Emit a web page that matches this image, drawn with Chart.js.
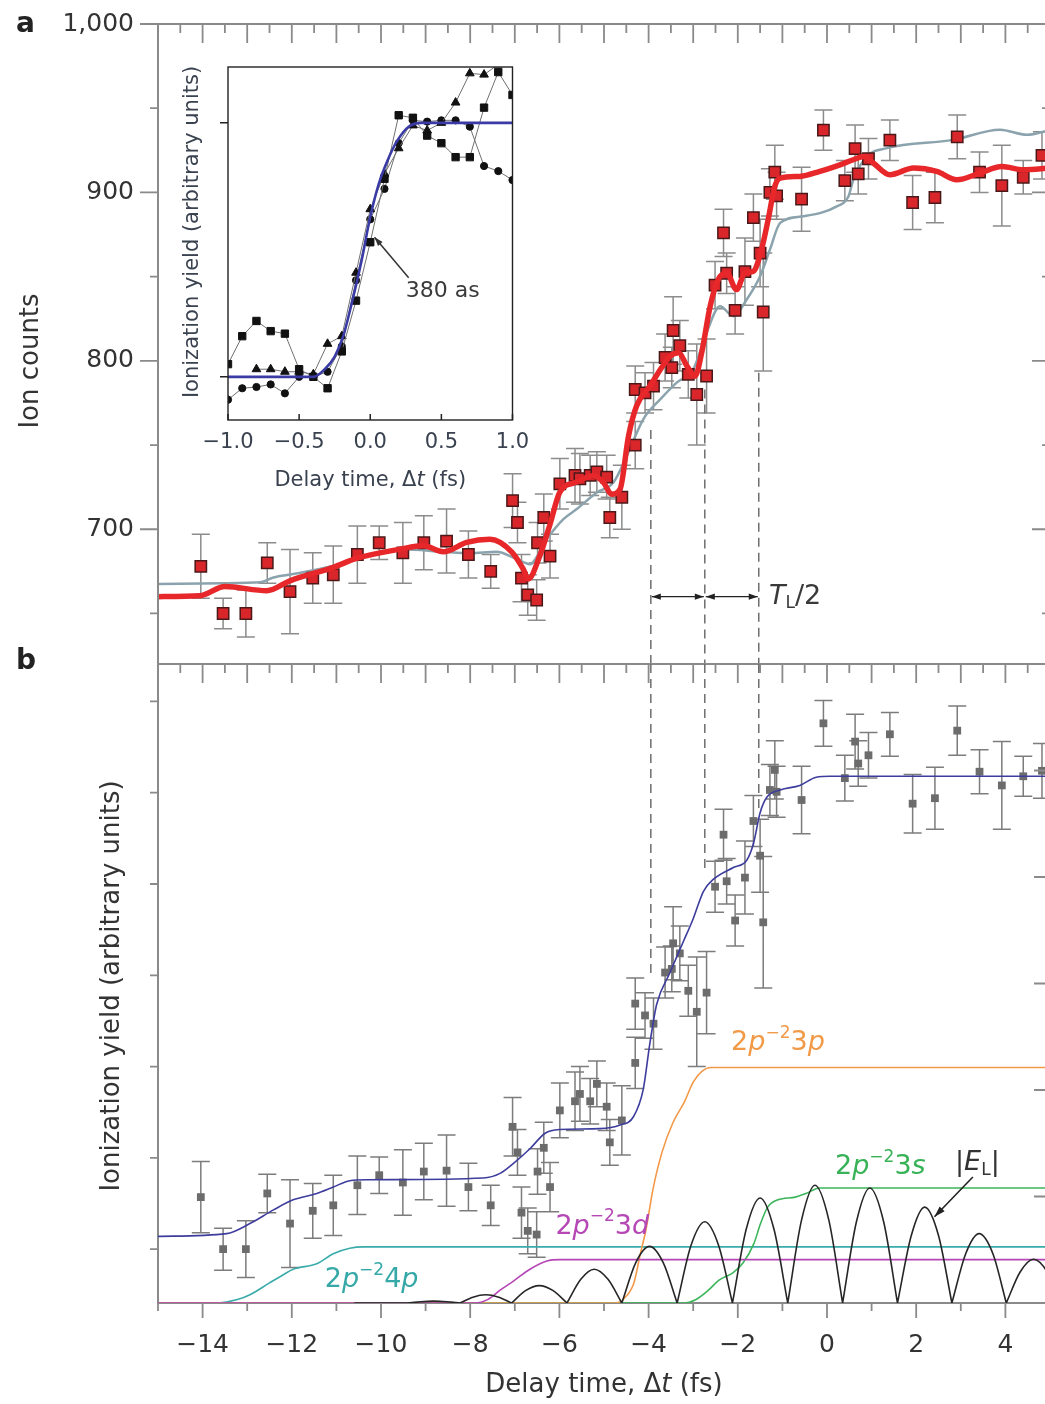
<!DOCTYPE html>
<html>
<head>
<meta charset="utf-8">
<script src="https://cdn.jsdelivr.net/npm/chart.js@4.4.0/dist/chart.umd.min.js"></script>
<style>
  html, body { margin: 0; padding: 0; background: #fff; }
  #fig { position: relative; width: 1045px; height: 1404px; overflow: hidden; background: #fff; }
  #fig canvas { position: absolute; }
</style>
</head>
<body>
<div id="fig">
  <canvas id="panelA" width="1080" height="680" style="left:0;top:0"></canvas>
  <canvas id="panelB" width="1080" height="764" style="left:0;top:640px"></canvas>
  <canvas id="inset" width="380" height="450" style="left:170px;top:50px"></canvas>
</div>
<script>
// ---------- measured scan (shared delays for both panels) ----------
const scanDelay = [
  -14.04, -13.54, -13.03, -12.55, -12.04, -11.53, -11.07, -10.53, -10.04, -9.51,
  -9.04, -8.53, -8.04, -7.54, -7.05, -6.94, -6.85, -6.71, -6.51, -6.49,
  -6.35, -6.21, -5.99, -5.65, -5.54, -5.31, -5.16, -4.94, -4.87, -4.60,
  -4.30, -4.30, -4.08, -3.89, -3.63, -3.48, -3.45, -3.30, -3.11, -2.92,
  -2.70, -2.51, -2.32, -2.25, -2.06, -1.84, -1.65, -1.50, -1.43, -1.28,
  -1.17, -1.13, -0.57, -0.08, 0.40, 0.63, 0.70, 0.93, 1.41, 1.92,
  2.42, 2.92, 3.42, 3.92, 4.40, 4.82
];
const ionCounts = [
  678, 650, 650, 680, 663, 671, 673, 685, 692, 686,
  692, 693, 685, 675, 717, 704, 671, 661, 658, 692,
  707, 684, 727, 732, 730, 732, 734, 731, 707, 719,
  750, 783, 781, 785, 802, 796, 818, 809, 792, 780,
  791, 845, 876, 852, 830, 853, 885, 864, 829, 900,
  912, 898, 896, 937, 907, 926, 911, 920, 931, 894,
  897, 933, 912, 904, 909, 922
];
const ionErr = [
  19, 9, 14, 12, 25, 15, 17, 17, 10, 18,
  16, 19, 14, 10, 16, 12, 14, 12, 12, 12,
  14, 13, 15, 16, 15, 12, 12, 13, 12, 19,
  14, 14, 12, 14, 14, 12, 20, 15, 14, 30,
  22, 14, 14, 12, 14, 20, 14, 20, 35, 14,
  16, 14, 19, 12, 12, 14, 12, 12, 12, 16,
  15, 13, 12, 24, 10, 14
];
const yieldValue = [
  1.16, 0.59, 0.59, 1.20, 0.87, 1.01, 1.07, 1.29, 1.40, 1.32,
  1.44, 1.45, 1.27, 1.07, 1.93, 1.65, 0.99, 0.79, 0.75, 1.44,
  1.70, 1.27, 2.11, 2.21, 2.29, 2.21, 2.40, 2.15, 1.76, 2.00,
  2.63, 3.28, 3.15, 3.06, 3.62, 3.66, 3.94, 3.83, 3.42, 3.19,
  3.40, 4.56, 5.13, 4.62, 4.19, 4.66, 5.28, 4.90, 4.17, 5.62,
  5.84, 5.60, 5.51, 6.35, 5.75, 6.15, 5.91, 6.00, 6.23, 5.47,
  5.53, 6.27, 5.82, 5.67, 5.77, 5.83
];
const yieldErr = [
  0.39, 0.23, 0.31, 0.21, 0.48, 0.30, 0.33, 0.32, 0.20, 0.36,
  0.31, 0.39, 0.26, 0.22, 0.32, 0.25, 0.28, 0.25, 0.25, 0.25,
  0.28, 0.27, 0.30, 0.32, 0.30, 0.25, 0.25, 0.26, 0.25, 0.38,
  0.28, 0.28, 0.25, 0.28, 0.28, 0.25, 0.40, 0.30, 0.28, 0.60,
  0.45, 0.28, 0.28, 0.25, 0.28, 0.40, 0.28, 0.40, 0.72, 0.28,
  0.32, 0.28, 0.37, 0.25, 0.25, 0.30, 0.25, 0.25, 0.24, 0.32,
  0.34, 0.27, 0.24, 0.48, 0.22, 0.30
];

// ---------- panel a curves ----------
const fitDelay = [
  -15, -14.06, -13.5, -12.56, -12.04, -11.07, -10.55, -9.57, -9.05, -8.6,
  -8.08, -7.56, -7.07, -6.81, -6.70, -6.44, -6.21, -5.99, -5.61, -5.24,
  -5.01, -4.83, -4.64, -4.45, -4.27, -3.97, -3.71, -3.52, -3.33, -3.14,
  -2.96, -2.81, -2.62, -2.44, -2.25, -2.03, -1.84, -1.65, -1.47, -1.32,
  -1.17, -1.05, -0.61, -0.16, 0.29, 0.59, 0.82, 1.04, 1.41, 1.94,
  2.46, 2.91, 3.43, 3.92, 4.40, 5.0
];
const fitCounts = [
  660, 660.5, 666, 663.5, 669.4, 677.4, 682.7, 688.2, 690.2, 686.6,
  692.2, 694.1, 686.6, 676.3, 670.4, 684.2, 703, 722, 728, 731.7,
  727.7, 720.8, 723.8, 755.4, 773.2, 785, 795.9, 802.8, 804.8, 796.9,
  790.9, 804.8, 832.4, 848.3, 852.2, 842.3, 852.2, 853.2, 866, 883.8,
  903.6, 908.5, 909.5, 912.5, 916.4, 919.4, 921.3, 917.4, 910.5, 914.5,
  912.5, 907.5, 911.5, 915.4, 913.5, 914.5
];
const altDelay = [
  -15, -13.54, -12.7, -12.41, -11.97, -11.07, -10.32, -9.50, -8.60, -8.0,
  -7.41, -6.96, -6.66, -6.29, -5.91, -5.61, -5.16, -4.79, -4.49, -4.12,
  -3.74, -3.37, -3.0, -2.70, -2.40, -2.10, -1.80, -1.50, -1.28, -1.05,
  -0.53, 0.22, 0.48, 0.59, 0.89, 1.34, 2.83, 3.88, 4.48, 5.0
];
const altCounts = [
  667.5, 668, 668.5, 671.4, 673.4, 678.3, 684.6, 688.2, 686.6, 685.8,
  686.6, 682.3, 679.3, 694, 706, 712, 721.8, 727.7, 743.5, 765.3,
  777.1, 787.1, 794.9, 816.7, 832.4, 826.5, 836.4, 850.2, 866, 881.9,
  885.8, 891.7, 897.6, 907.5, 921.3, 926.3, 931.2, 937.2, 934.2, 937
];

// ---------- panel b model and channels ----------
const modelDelay = [
  -15, -13.46, -12.94, -12.41, -11.97, -11.44, -11.07, -10.70, -10.3, -7.71,
  -7.33, -7.03, -6.66, -6.32, -6.0, -5.1, -4.64, -4.34, -4.12, -3.97,
  -3.82, -3.52, -3.22, -3.0, -2.77, -2.55, -2.10, -1.80, -1.65, -1.50,
  -1.35, -1.05, -0.61, -0.24, 0.07, 5.0
];
const modelYield = [
  0.73, 0.76, 0.87, 1.02, 1.13, 1.20, 1.27, 1.34, 1.35, 1.37,
  1.42, 1.53, 1.69, 1.86, 1.90, 1.91, 1.95, 2.04, 2.34, 2.85,
  3.27, 3.62, 3.96, 4.21, 4.51, 4.64, 4.77, 4.85, 5.03, 5.37,
  5.54, 5.62, 5.67, 5.76, 5.77, 5.77
];
const ch4pDelay = [-15, -13.7, -13.2, -12.94, -12.5, -12.19, -11.97, -11.44, -11.07, -10.7, -10.4, 5];
const ch4pYield = [0, 0, 0.04, 0.09, 0.22, 0.31, 0.37, 0.43, 0.54, 0.60, 0.615, 0.615];
const ch3dDelay = [-15, -7.9, -7.6, -7.33, -7.03, -6.66, -6.28, -6.0, 5];
const ch3dYield = [0, 0, 0.04, 0.14, 0.24, 0.37, 0.46, 0.475, 0.475];
const ch3pDelay = [-15, -4.75, -4.55, -4.33, -4.18, -4.06, -3.9, -3.7, -3.45, -3.2, -3.0, -2.8, -2.6, 5];
const ch3pYield = [0, 0, 0.05, 0.22, 0.55, 0.8, 1.25, 1.65, 1.98, 2.2, 2.42, 2.54, 2.58, 2.58];
const ch3sDelay = [-15, -3.2, -2.97, -2.66, -2.42, -2.11, -1.88, -1.64, -1.49, -1.33, -1.10, -0.71, -0.47, -0.16, 0.2, 5];
const ch3sYield = [0, 0, 0.03, 0.14, 0.25, 0.33, 0.44, 0.65, 0.87, 1.05, 1.13, 1.16, 1.20, 1.26, 1.26, 1.26];

// |E_L|: one arch per half cycle, null breaks the line at each node
const fieldDelay = [
  -10.6, -9.40, -9.40,
  -9.40, -9.11, -8.82, -8.52, -8.23, -8.23,
  -8.23, -7.94, -7.65, -7.36, -7.07, -7.07,
  -7.07, -6.76, -6.45, -6.14, -5.83, -5.83,
  -5.83, -5.52, -5.22, -4.91, -4.60, -4.60,
  -4.60, -4.29, -3.98, -3.67, -3.36, -3.36,
  -3.36, -3.05, -2.74, -2.43, -2.12, -2.12,
  -2.12, -1.81, -1.50, -1.19, -0.88, -0.88,
  -0.88, -0.57, -0.27, 0.04, 0.35, 0.35,
  0.35, 0.66, 0.96, 1.27, 1.58, 1.58,
  1.58, 1.89, 2.19, 2.50, 2.80, 2.80,
  2.80, 3.11, 3.41, 3.72, 4.02, 4.02,
  4.02, 4.33, 4.63, 4.94, 5.24
];
const fieldAmp = [
  0, 0, null,
  0, 0.014, 0.02, 0.014, 0, null,
  0, 0.064, 0.09, 0.064, 0, null,
  0, 0.135, 0.19, 0.135, 0, null,
  0, 0.26, 0.37, 0.26, 0, null,
  0, 0.44, 0.62, 0.44, 0, null,
  0, 0.63, 0.89, 0.63, 0, null,
  0, 0.81, 1.15, 0.81, 0, null,
  0, 0.91, 1.29, 0.91, 0, null,
  0, 0.89, 1.26, 0.89, 0, null,
  0, 0.74, 1.05, 0.74, 0, null,
  0, 0.54, 0.76, 0.54, 0, null,
  0, 0.34, 0.48, 0.34, 0
];

// field half-period markers
const markDelay = [-3.95, -2.74, -1.53];
const markTopCounts = [759, 783, 793];
const markBottomYield = [3.6, 4.7, 5.4];

// ---------- inset ----------
const insetDelay = [-1.0, -0.9, -0.8, -0.7, -0.6, -0.5, -0.4, -0.3, -0.2, -0.1, 0.0, 0.1, 0.2, 0.3, 0.4, 0.5, 0.6, 0.7, 0.8, 0.9, 1.0];
const insetSquares = [0.05, 0.16, 0.22, 0.18, 0.17, 0.03, 0.0, -0.045, 0.10, 0.30, 0.53, 0.78, 1.03, 1.02, 0.95, 0.92, 0.865, 0.865, 1.06, 1.20, 1.11];
const insetTriangles = [null, null, 0.03, 0.03, 0.02, 0.02, 0.01, 0.13, 0.16, 0.41, 0.66, 0.80, 0.90, 0.99, 0.97, 1.0, 1.08, 1.195, 1.19, 1.23, null];
const insetCircles = [-0.09, -0.045, -0.04, -0.03, -0.065, 0.0, 0.0, 0.02, 0.12, 0.38, 0.62, 0.74, 0.92, 1.01, 1.005, 1.01, 1.01, 0.985, 0.83, 0.81, 0.775];
const stepDelay = [-1, -0.4, -0.32, -0.25, -0.19, -0.13, -0.06, 0.0, 0.06, 0.12, 0.19, 0.27, 0.36, 1.0];
const stepYield = [0, 0, 0.03, 0.08, 0.16, 0.29, 0.46, 0.63, 0.76, 0.85, 0.93, 0.985, 1.0, 1.0];

// ---------- tick labels ----------
const countTicks = [700, 800, 900, 1000];
const delayTicks = [-14, -12, -10, -8, -6, -4, -2, 0, 2, 4];
const insetTicks = [-1, -0.5, 0, 0.5, 1];
const yieldTicks = [0.59, 1.59, 2.59, 3.59, 4.59, 5.59, 6.59];
const fieldTicks = [1, 2, 3, 4, 5];

// ---------- drawing helpers ----------
const FONT = "'DejaVu Sans', sans-serif";
const AXIS = '#8a8a8a';
const INK = '#333333';
Chart.defaults.font.family = FONT;

const pairs = (xs, ys) => xs.map((x, i) => ({ x, y: ys[i] }));
const minus = v => (v < 0 ? '\u2212' : '') + Math.abs(v);
const halfSteps = Array.from({ length: 41 }, (_, i) => -15 + i * 0.5);
const unitSteps = Array.from({ length: 21 }, (_, i) => -15 + i);
const countSteps = Array.from({ length: 8 }, (_, i) => 650 + i * 50);

function drawTicks(ctx, scale, values, edge, lengthFor, dir) {
  ctx.beginPath();
  values.forEach(v => {
    const p = scale.getPixelForValue(v);
    const len = lengthFor(v);
    if (scale.isHorizontal()) { ctx.moveTo(p, edge); ctx.lineTo(p, edge + dir * len); }
    else { ctx.moveTo(edge, p); ctx.lineTo(edge + dir * len, p); }
  });
  ctx.stroke();
}

// text made of runs: i = italic, s = 'sup' | 'sub', b = bold
function richText(ctx, parts, x, y, size, color, align) {
  const fontFor = p => `${p.b ? 'bold ' : ''}${p.i ? 'italic ' : ''}${p.s ? Math.round(size * 0.62) : size}px ${FONT}`;
  const widths = parts.map(p => { ctx.font = fontFor(p); return ctx.measureText(p.t).width; });
  const total = widths.reduce((a, b) => a + b, 0);
  let cx = align === 'center' ? x - total / 2 : x;
  ctx.fillStyle = color;
  ctx.textAlign = 'left';
  ctx.textBaseline = 'middle';
  parts.forEach((p, i) => {
    ctx.font = fontFor(p);
    const dy = p.s === 'sup' ? -0.36 * size : p.s === 'sub' ? 0.26 * size : 0;
    ctx.fillText(p.t, cx, y + dy);
    cx += widths[i];
  });
}

function verticalText(ctx, parts, x, y, size, color) {
  ctx.save();
  ctx.translate(x, y);
  ctx.rotate(-Math.PI / 2);
  richText(ctx, parts, 0, 0, size, color, 'center');
  ctx.restore();
}

function arrowHead(ctx, x1, y1, x2, y2, len, half) {
  const a = Math.atan2(y2 - y1, x2 - x1);
  const bx = x2 - len * Math.cos(a), by = y2 - len * Math.sin(a);
  ctx.beginPath();
  ctx.moveTo(x2, y2);
  ctx.lineTo(bx + half * Math.sin(a), by - half * Math.cos(a));
  ctx.lineTo(bx - half * Math.sin(a), by + half * Math.cos(a));
  ctx.closePath();
  ctx.fill();
}

function arrow(ctx, x1, y1, x2, y2, len, half) {
  ctx.beginPath();
  ctx.moveTo(x1, y1);
  ctx.lineTo(x2, y2);
  ctx.stroke();
  arrowHead(ctx, x1, y1, x2, y2, len, half);
}

const delayTitle = [{ t: 'Delay time, \u0394' }, { t: 't', i: 1 }, { t: ' (fs)' }];

// vertical error bars with caps, drawn under the markers
const errorBars = {
  id: 'errorBars',
  beforeDatasetsDraw(chart) {
    const { ctx, chartArea: a, scales: { x, y } } = chart;
    ctx.save();
    ctx.beginPath();
    ctx.rect(a.left, a.top, a.right - a.left, a.bottom - a.top);
    ctx.clip();
    chart.data.datasets.forEach(ds => {
      if (!ds.errors) return;
      ctx.strokeStyle = ds.errorColor;
      ctx.lineWidth = 1.5;
      ctx.beginPath();
      ds.data.forEach((pt, i) => {
        const px = x.getPixelForValue(pt.x);
        const top = y.getPixelForValue(pt.y + ds.errors[i]);
        const bot = y.getPixelForValue(pt.y - ds.errors[i]);
        const cap = 9;
        ctx.moveTo(px, top); ctx.lineTo(px, bot);
        ctx.moveTo(px - cap, top); ctx.lineTo(px + cap, top);
        ctx.moveTo(px - cap, bot); ctx.lineTo(px + cap, bot);
      });
      ctx.stroke();
    });
    ctx.restore();
  }
};

// ---------- panel a ----------
const panelAFrame = {
  id: 'panelAFrame',
  afterDraw(chart) {
    const { ctx, chartArea: a, scales: { x, y } } = chart;
    ctx.save();
    ctx.strokeStyle = AXIS;
    ctx.lineWidth = 2;
    ctx.beginPath();
    ctx.moveTo(a.left, a.bottom); ctx.lineTo(a.left, a.top);
    ctx.lineTo(a.right, a.top); ctx.lineTo(a.right, a.bottom);
    ctx.stroke();
    ctx.lineWidth = 1.8;
    drawTicks(ctx, y, countSteps, a.left, v => (v % 100 === 0 ? 18 : 8), -1);
    drawTicks(ctx, y, countSteps, a.right, v => (v % 100 === 0 ? 18 : 8), -1);
    drawTicks(ctx, x, halfSteps, a.top, v => (Number.isInteger(v) ? 19 : 9), 1);

    // dashed markers, continued in panel b
    ctx.strokeStyle = '#6e6e6e';
    ctx.lineWidth = 1.5;
    ctx.setLineDash([9, 6]);
    markDelay.forEach((d, i) => {
      const px = x.getPixelForValue(d);
      ctx.beginPath();
      ctx.moveTo(px, y.getPixelForValue(markTopCounts[i]));
      ctx.lineTo(px, a.bottom);
      ctx.stroke();
    });
    ctx.setLineDash([]);

    // half-period arrows
    const ay = y.getPixelForValue(660);
    ctx.strokeStyle = '#222';
    ctx.fillStyle = '#222';
    ctx.lineWidth = 1.4;
    for (let i = 0; i < markDelay.length - 1; i++) {
      const x1 = x.getPixelForValue(markDelay[i]) + 1;
      const x2 = x.getPixelForValue(markDelay[i + 1]) - 1;
      ctx.beginPath(); ctx.moveTo(x1, ay); ctx.lineTo(x2, ay); ctx.stroke();
      arrowHead(ctx, x2, ay, x1, ay, 9, 3.2);
      arrowHead(ctx, x1, ay, x2, ay, 9, 3.2);
    }
    richText(ctx, [{ t: 'T', i: 1 }, { t: 'L', s: 'sub' }, { t: '/2' }],
      x.getPixelForValue(-1.30), y.getPixelForValue(660), 27, '#3a3a3a', 'left');

    richText(ctx, [{ t: 'a', b: 1 }], 16, 25, 28, '#222', 'left');
    verticalText(ctx, [{ t: 'Ion counts' }], 31, 361, 26, INK);
    ctx.restore();
  }
};

new Chart(document.getElementById('panelA'), {
  type: 'line',
  data: {
    datasets: [
      {
        data: pairs(fitDelay, fitCounts), borderColor: '#e8272b', borderWidth: 5.5,
        pointRadius: 0, cubicInterpolationMode: 'monotone', order: 1
      },
      {
        data: pairs(scanDelay, ionCounts), errors: ionErr, errorColor: '#8c8c8c',
        showLine: false, pointStyle: 'rect', pointRadius: 8,
        pointBackgroundColor: '#d8262b', pointBorderColor: '#4a1818', pointBorderWidth: 1.5, order: 2
      },
      {
        data: pairs(altDelay, altCounts), borderColor: '#8ba3ad', borderWidth: 2.5,
        pointRadius: 0, cubicInterpolationMode: 'monotone', order: 3
      }
    ]
  },
  options: {
    responsive: false, animation: false, devicePixelRatio: 1,
    layout: { padding: { left: 0, top: 24, right: 30, bottom: 16 } },
    plugins: { legend: { display: false }, tooltip: { enabled: false } },
    scales: {
      x: { type: 'linear', min: -15, max: 5, display: false },
      y: {
        type: 'linear', min: 620, max: 1000,
        // the hidden tick length only pushes the labels away from the axis
        grid: { display: false, drawTicks: true, tickLength: 24 }, border: { display: false },
        afterBuildTicks: s => { s.ticks = countTicks.map(v => ({ value: v })); },
        afterFit: s => { s.width = 158; },
        ticks: { padding: 0, color: INK, font: { size: 25 }, callback: v => v.toLocaleString('en-US') }
      }
    }
  },
  plugins: [errorBars, panelAFrame]
});

// ---------- panel b ----------
const channelLabels = [
  { parts: [{ t: '2' }, { t: 'p', i: 1 }, { t: '\u22122', s: 'sup' }, { t: '3' }, { t: 'p', i: 1 }], x: -2.15, y: 2.85, color: '#f19a48' },
  { parts: [{ t: '2' }, { t: 'p', i: 1 }, { t: '\u22122', s: 'sup' }, { t: '3' }, { t: 's', i: 1 }], x: 0.18, y: 1.49, color: '#38b257' },
  { parts: [{ t: '2' }, { t: 'p', i: 1 }, { t: '\u22122', s: 'sup' }, { t: '3' }, { t: 'd', i: 1 }], x: -6.09, y: 0.835, color: '#b548b5' },
  { parts: [{ t: '2' }, { t: 'p', i: 1 }, { t: '\u22122', s: 'sup' }, { t: '4' }, { t: 'p', i: 1 }], x: -11.26, y: 0.25, color: '#36a8a8' }
];

const panelBFrame = {
  id: 'panelBFrame',
  // axis lines go under the curves so the zero-level channels stay visible
  beforeDatasetsDraw(chart) {
    const { ctx, chartArea: a } = chart;
    ctx.save();
    ctx.strokeStyle = AXIS;
    ctx.lineWidth = 2;
    ctx.beginPath();
    ctx.moveTo(a.right, a.top); ctx.lineTo(a.left, a.top);
    ctx.lineTo(a.left, a.bottom); ctx.lineTo(a.right, a.bottom);
    ctx.lineTo(a.right, a.top);
    ctx.stroke();
    ctx.restore();
  },
  afterDraw(chart) {
    const { ctx, chartArea: a, scales: { x, y, yR } } = chart;
    ctx.save();
    ctx.strokeStyle = AXIS;
    ctx.lineWidth = 1.8;
    drawTicks(ctx, y, yieldTicks, a.left, () => 8, -1);
    drawTicks(ctx, yR, fieldTicks, a.right, () => 16, -1);
    drawTicks(ctx, x, halfSteps, a.top, v => (Number.isInteger(v) ? 19 : 9), 1);
    drawTicks(ctx, x, unitSteps, a.bottom, v => (v % 2 === 0 ? 15 : 8), 1);

    ctx.strokeStyle = '#6e6e6e';
    ctx.lineWidth = 1.5;
    ctx.setLineDash([9, 6]);
    markDelay.forEach((d, i) => {
      const px = x.getPixelForValue(d);
      ctx.beginPath();
      ctx.moveTo(px, a.top);
      ctx.lineTo(px, y.getPixelForValue(markBottomYield[i]));
      ctx.stroke();
    });
    ctx.setLineDash([]);

    channelLabels.forEach(l => {
      richText(ctx, l.parts, x.getPixelForValue(l.x), y.getPixelForValue(l.y), 27, l.color, 'left');
    });
    richText(ctx, [{ t: '|' }, { t: 'E', i: 1 }, { t: 'L', s: 'sub' }, { t: '|' }],
      x.getPixelForValue(2.87), y.getPixelForValue(1.53), 27, '#333', 'left');
    ctx.strokeStyle = '#222';
    ctx.fillStyle = '#222';
    ctx.lineWidth = 1.6;
    arrow(ctx, x.getPixelForValue(3.27), y.getPixelForValue(1.38),
      x.getPixelForValue(2.41), y.getPixelForValue(0.945), 11, 3.5);

    richText(ctx, [{ t: 'b', b: 1 }], 16, 22, 28, '#222', 'left');
    verticalText(ctx, [{ t: 'Ionization yield (arbitrary units)' }], 112, 346, 26, INK);
    richText(ctx, delayTitle, (a.left + a.right) / 2, 745, 26, INK, 'center');
    ctx.restore();
  }
};

const thin = (data, color, order) => ({
  data, borderColor: color, borderWidth: 1.6, pointRadius: 0,
  cubicInterpolationMode: 'monotone', order
});

new Chart(document.getElementById('panelB'), {
  type: 'line',
  data: {
    datasets: [
      thin(pairs(modelDelay, modelYield), '#3d3d9e', 1),
      {
        data: pairs(scanDelay, yieldValue), errors: yieldErr, errorColor: '#7c7c7c',
        showLine: false, pointStyle: 'rect', pointRadius: 5.5,
        pointBackgroundColor: '#6c6c6c', pointBorderColor: '#6c6c6c', pointBorderWidth: 0, order: 2
      },
      thin(pairs(fieldDelay, fieldAmp), '#262626', 3),
      thin(pairs(ch3dDelay, ch3dYield), '#b546b5', 4),
      thin(pairs(ch3pDelay, ch3pYield), '#f39a4a', 5),
      thin(pairs(ch3sDelay, ch3sYield), '#3cb55a', 6),
      thin(pairs(ch4pDelay, ch4pYield), '#3aabab', 7)
    ]
  },
  options: {
    responsive: false, animation: false, devicePixelRatio: 1,
    layout: { padding: { left: 0, top: 24, right: 30, bottom: 0 } },
    plugins: { legend: { display: false }, tooltip: { enabled: false } },
    scales: {
      x: {
        type: 'linear', min: -15, max: 5,
        grid: { display: false, drawTicks: false }, border: { display: false },
        afterBuildTicks: s => { s.ticks = delayTicks.map(v => ({ value: v })); },
        afterFit: s => { s.height = 101; },
        ticks: { padding: 27, color: INK, font: { size: 25 }, maxRotation: 0, autoSkip: false, callback: v => minus(v) }
      },
      y: {
        type: 'linear', min: 0, max: 7,
        grid: { display: false, drawTicks: false }, border: { display: false },
        ticks: { display: false },
        afterFit: s => { s.width = 158; }
      },
      yR: { type: 'linear', position: 'right', min: 0, max: 6, display: false }
    }
  },
  plugins: [errorBars, panelBFrame]
});

// ---------- inset ----------
const insetFrame = {
  id: 'insetFrame',
  beforeDatasetsDraw(chart) {
    const { ctx, chartArea: a } = chart;
    ctx.save();
    ctx.fillStyle = '#fff';
    ctx.fillRect(a.left, a.top, a.right - a.left, a.bottom - a.top);
    ctx.restore();
  },
  afterDraw(chart) {
    const { ctx, chartArea: a, scales: { x, y } } = chart;
    ctx.save();
    ctx.strokeStyle = '#222';
    ctx.lineWidth = 1.4;
    ctx.strokeRect(a.left, a.top, a.right - a.left, a.bottom - a.top);
    ctx.lineWidth = 1.5;
    drawTicks(ctx, x, insetTicks, a.bottom, () => 6, -1);
    drawTicks(ctx, y, [0, 1], a.left, () => 8, -1);

    richText(ctx, [{ t: '380 as' }], x.getPixelForValue(0.25), y.getPixelForValue(0.335), 22, '#3a3a3a', 'left');
    ctx.strokeStyle = '#333';
    ctx.fillStyle = '#333';
    ctx.lineWidth = 1.5;
    arrow(ctx, x.getPixelForValue(0.27), y.getPixelForValue(0.39),
      x.getPixelForValue(0.03), y.getPixelForValue(0.55), 9, 3);

    richText(ctx, delayTitle, (a.left + a.right) / 2, 431, 21, '#3a4250', 'center');
    verticalText(ctx, [{ t: 'Ionization yield (arbitrary units)' }], 23, 182, 21, '#3a4250');
    ctx.restore();
  }
};

const markerSeries = (ys, style, radius, order) => ({
  data: pairs(insetDelay, ys), borderColor: '#707070', borderWidth: 1,
  pointStyle: style, pointRadius: radius, pointBackgroundColor: '#111',
  pointBorderColor: '#111', pointBorderWidth: 1, spanGaps: false, order
});

new Chart(document.getElementById('inset'), {
  type: 'line',
  data: {
    datasets: [
      {
        data: pairs(stepDelay, stepYield), borderColor: '#3b3ba6', borderWidth: 2.6,
        pointRadius: 0, cubicInterpolationMode: 'monotone', order: 0
      },
      markerSeries(insetSquares, 'rect', 5.2, 1),
      markerSeries(insetTriangles, 'triangle', 5, 2),
      markerSeries(insetCircles, 'circle', 3.6, 3)
    ]
  },
  options: {
    responsive: false, animation: false, devicePixelRatio: 1,
    layout: { padding: { left: 0, top: 17, right: 37.5, bottom: 0 } },
    plugins: { legend: { display: false }, tooltip: { enabled: false } },
    scales: {
      x: {
        type: 'linear', min: -1, max: 1,
        grid: { display: false, drawTicks: false }, border: { display: false },
        afterBuildTicks: s => { s.ticks = insetTicks.map(v => ({ value: v })); },
        afterFit: s => { s.height = 80; },
        ticks: { padding: 10, color: '#3a4250', font: { size: 21 }, maxRotation: 0, autoSkip: false,
          callback: v => (v < 0 ? '\u2212' : '') + Math.abs(v).toFixed(1) }
      },
      y: {
        type: 'linear', min: -0.17, max: 1.22,
        grid: { display: false, drawTicks: false }, border: { display: false },
        ticks: { display: false },
        afterFit: s => { s.width = 58; }
      }
    }
  },
  plugins: [insetFrame]
});
</script>
</body>
</html>
